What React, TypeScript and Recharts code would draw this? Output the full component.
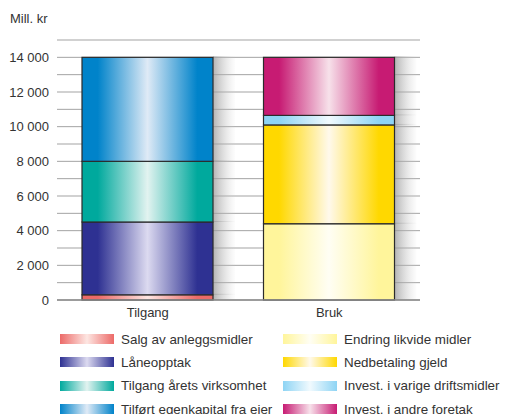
import { BarChart, Bar, XAxis, YAxis, CartesianGrid } from 'recharts';

const categories = ['Tilgang', 'Bruk'];

// Stack segments, bottom to top. Each array holds [Tilgang, Bruk] in mill. kr
const salgAnleggsmidler   = [300, 0];
const laneopptak          = [4200, 0];
const tilgangAretsVirks   = [3500, 0];
const tilfortEgenkapital  = [6000, 0];
const endringLikvide      = [0, 4400];
const nedbetalingGjeld    = [0, 5700];
const investVarige        = [0, 550];
const investAndreForetak  = [0, 3350];

const yTicks = [0, 1000, 2000, 3000, 4000, 5000, 6000, 7000, 8000, 9000, 10000, 11000, 12000, 13000, 14000, 15000];

const SERIES = [
  { key: 'salg',        label: 'Salg av anleggsmidler',        values: salgAnleggsmidler,  color: '#ec6a68', mid: '#fde6e2' },
  { key: 'lan',         label: 'Låneopptak',                   values: laneopptak,         color: '#2e3192', mid: '#dcdaf0' },
  { key: 'tilgang',     label: 'Tilgang årets virksomhet',     values: tilgangAretsVirks,  color: '#00a99d', mid: '#e2f3f0' },
  { key: 'tilfort',     label: 'Tilført egenkapital fra eier', values: tilfortEgenkapital, color: '#0083ca', mid: '#dfeaf6' },
  { key: 'endring',     label: 'Endring likvide midler',       values: endringLikvide,     color: '#fff59b', mid: '#fffef4' },
  { key: 'nedbetaling', label: 'Nedbetaling gjeld',            values: nedbetalingGjeld,   color: '#ffd800', mid: '#fff9ec' },
  { key: 'varige',      label: 'Invest. i varige driftsmidler', values: investVarige,      color: '#8ed4f4', mid: '#f1fafe' },
  { key: 'andre',       label: 'Invest. i andre foretak',      values: investAndreForetak, color: '#c71b73', mid: '#f7e1ea' },
];

const data = categories.map((name, i) => {
  const row: Record<string, string | number> = { name };
  SERIES.forEach((s) => { row[s.key] = s.values[i]; });
  return row;
});

const FONT = '"Liberation Sans", Arial, Helvetica, sans-serif';

const formatTick = (v: number) =>
  v % 2000 === 0 && v <= 14000 ? v.toLocaleString('en-US').replace(/,/g, ' ') : '';

// Segment with its gray drop shadow on the right-hand side
function ShadedSegment(props: any) {
  const { x, y, width, height, gradId } = props;
  if (!height || height <= 0) return null;
  return (
    <g>
      <rect x={x + width} y={y - 1} width={22} height={height + 1} fill="url(#bar-shadow)" />
      <rect x={x} y={y} width={width} height={height} fill={`url(#${gradId})`} stroke="#2b2b2b" strokeWidth={1.2} />
    </g>
  );
}

function Gradients() {
  return (
    <svg width={0} height={0} style={{ position: 'absolute' }}>
      <defs>
        {SERIES.map((s) => (
          <linearGradient key={s.key} id={`grad-${s.key}`} x1="0" y1="0" x2="1" y2="0">
            <stop offset="0" stopColor={s.color} />
            <stop offset="0.12" stopColor={s.color} />
            <stop offset="0.5" stopColor={s.mid} />
            <stop offset="0.88" stopColor={s.color} />
            <stop offset="1" stopColor={s.color} />
          </linearGradient>
        ))}
        {SERIES.map((s) => (
          <linearGradient key={s.key} id={`swatch-${s.key}`} x1="0" y1="0" x2="1" y2="0">
            <stop offset="0" stopColor={s.color} />
            <stop offset="0.5" stopColor={s.mid} />
            <stop offset="1" stopColor={s.color} />
          </linearGradient>
        ))}
        <linearGradient id="bar-shadow" x1="0" y1="0" x2="1" y2="0">
          <stop offset="0" stopColor="#9a9a9a" stopOpacity={0.75} />
          <stop offset="1" stopColor="#cfcfcf" stopOpacity={0.05} />
        </linearGradient>
      </defs>
    </svg>
  );
}

export default function App() {
  const legendRows = [0, 1, 2, 3];
  return (
    <div style={{ position: 'absolute', left: 0, top: 0, width: 505, height: 414, background: '#fff', fontFamily: FONT, overflow: 'hidden' }}>
      <Gradients />
      <div style={{ position: 'absolute', left: 10, top: 11, fontSize: 13, color: '#333' }}>Mill. kr</div>

      <BarChart
        width={505}
        height={330}
        data={data}
        margin={{ top: 40, right: 85, bottom: 0, left: 0 }}
        barCategoryGap={0}
      >
        <CartesianGrid vertical={false} stroke="#a3a3a3" strokeWidth={1} />
        <XAxis
          dataKey="name"
          tickLine={false}
          axisLine={{ stroke: '#8a8a8a', strokeWidth: 1.6 }}
          tick={{ fill: '#333', fontSize: 13, fontFamily: FONT }}
        />
        <YAxis
          domain={[0, 15000]}
          ticks={yTicks}
          interval={0}
          width={57}
          axisLine={false}
          tickLine={false}
          tickFormatter={formatTick}
          tick={{ fill: '#333', fontSize: 13, fontFamily: FONT }}
        />
        {SERIES.map((s) => (
          <Bar
            key={s.key}
            dataKey={s.key}
            stackId="a"
            barSize={131}
            isAnimationActive={false}
            shape={(p: any) => <ShadedSegment {...p} gradId={`grad-${s.key}`} />}
          />
        ))}
      </BarChart>

      {/* Legend: two columns of four */}
      {[0, 1].map((col) =>
        legendRows.map((row) => {
          const s = SERIES[col * 4 + row];
          const top = 339 + row * 23.4;
          const left = col === 0 ? 60 : 283;
          return (
            <div key={s.key} style={{ position: 'absolute', left, top: top - 9, height: 18, display: 'flex', alignItems: 'center' }}>
              <svg width={54} height={10} style={{ display: 'block' }}>
                <rect x={0} y={0} width={54} height={10} fill={`url(#swatch-${s.key})`} />
              </svg>
              <span style={{ marginLeft: 7, fontSize: 13.4, color: '#333', whiteSpace: 'nowrap' }}>{s.label}</span>
            </div>
          );
        })
      )}
    </div>
  );
}
